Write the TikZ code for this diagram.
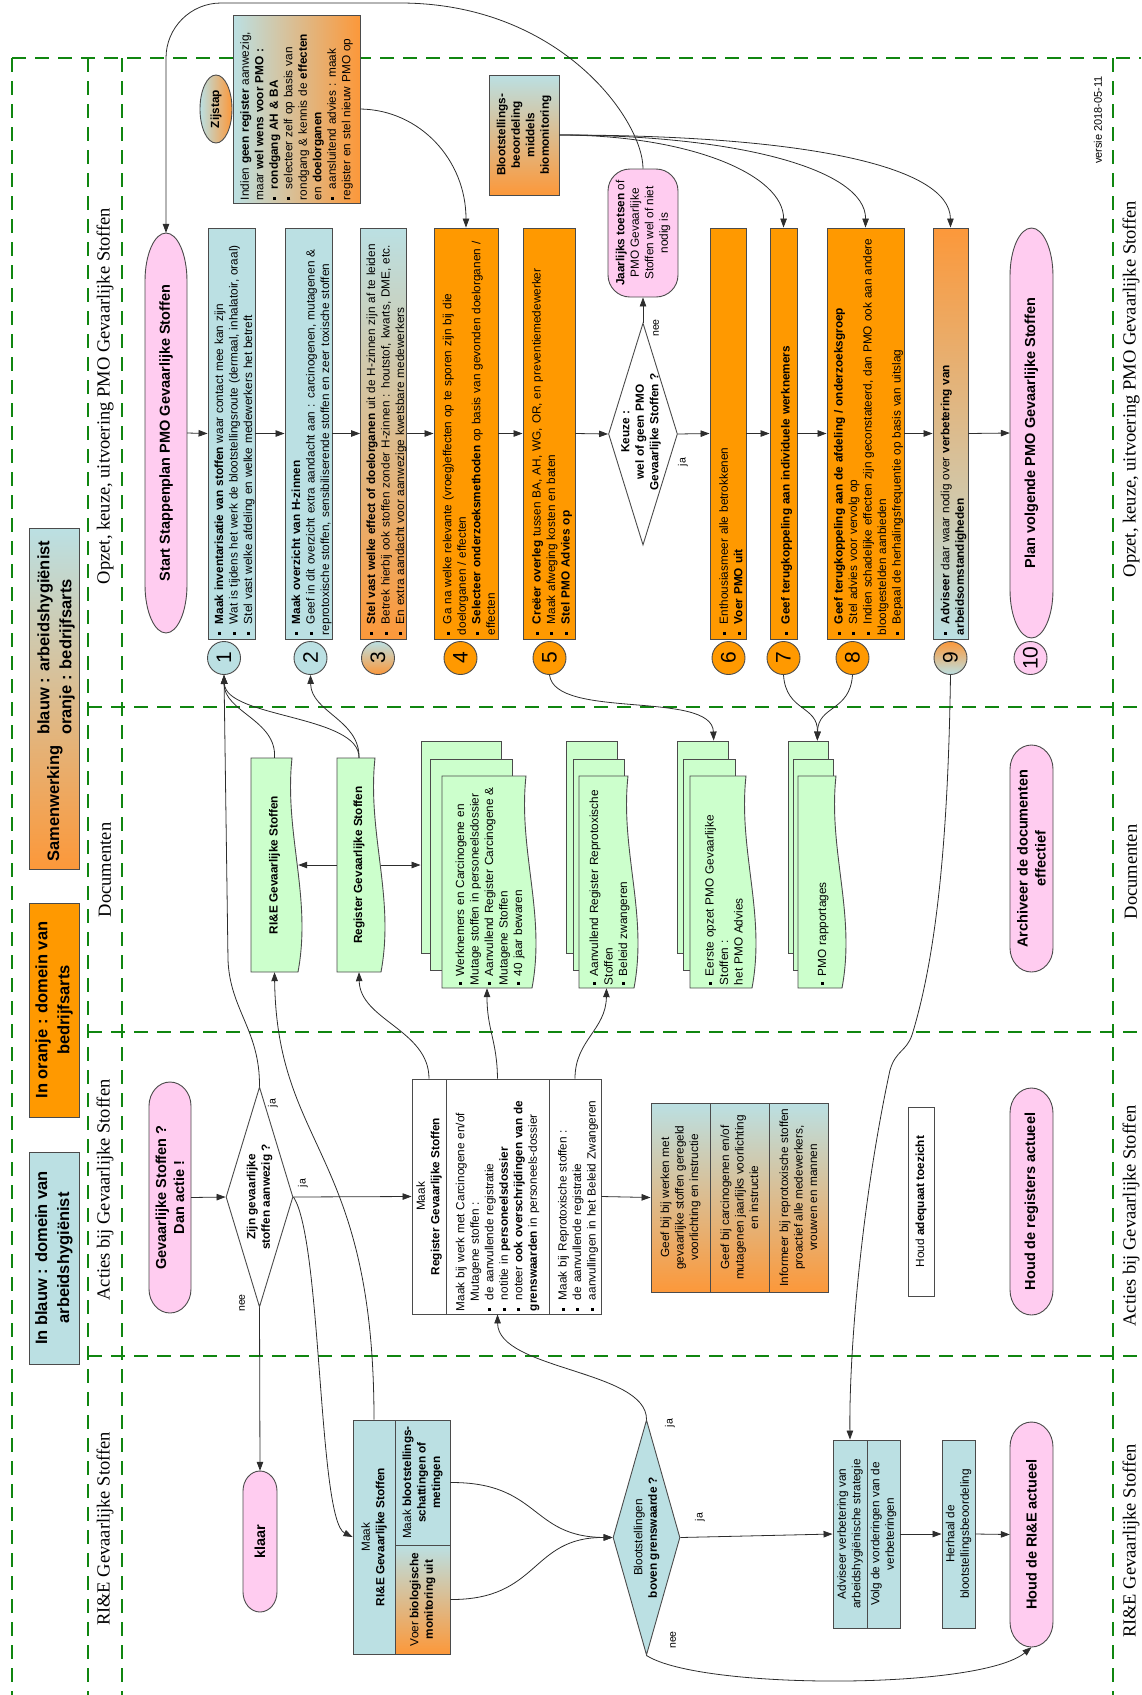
\documentclass[tikz,border=0pt]{standalone}
\usepackage{fontspec}
\setmainfont{Liberation Sans}
\newfontfamily\lanefont{Liberation Serif}
\usetikzlibrary{shapes.geometric,arrows.meta}

\definecolor{blueAH}{RGB}{187,224,227}
\definecolor{orangeBA}{RGB}{255,153,0}
\definecolor{orangeGr}{RGB}{252,152,58}
\definecolor{pinkT}{RGB}{255,204,240}
\definecolor{greenDoc}{RGB}{204,255,204}
\definecolor{laneGreen}{RGB}{16,134,16}
\definecolor{boxline}{RGB}{75,75,75}
\definecolor{connline}{RGB}{45,45,45}

\newcommand\bul{\rule[0.3ex]{3pt}{3pt}}
\newcommand\itm[1]{\par\hangindent=11pt\hangafter=1\noindent\makebox[11pt][l]{\bul}#1}
\newcommand\docitm[1]{\par\hangindent=9pt\hangafter=1\noindent\makebox[9pt][l]{\bul}#1}
% document sheet with wavy lower edge: left x, top y, width, height
\newcommand\docpath[4]{%
  \filldraw[draw=boxline, fill=greenDoc, line width=0.9pt]
    (#1,#2) -- ({#1+#3},#2) -- ({#1+#3},{#2-#4+6})
    .. controls ({#1+0.65*#3},{#2-#4+14}) and ({#1+0.35*#3},{#2-#4-14}) .. (#1,{#2-#4}) -- cycle;}
% terminator outline: centre x, centre y, width, height, length of the rounded ends
\newcommand\termpath[5]{%
  \filldraw[draw=boxline, fill=pinkT, line width=0.9pt]
    ({#1-#3/2+#5},{#2+#4/2}) -- ({#1+#3/2-#5},{#2+#4/2})
    arc[start angle=90, end angle=-90, x radius=#5, y radius=#4/2]
    -- ({#1-#3/2+#5},{#2-#4/2})
    arc[start angle=270, end angle=90, x radius=#5, y radius=#4/2] -- cycle;}

\begin{document}
\begin{tikzpicture}[x=1pt, y=1pt, rotate=90, transform shape,
  stepbox/.style={draw=boxline, line width=0.9pt, inner xsep=4pt, inner ysep=0pt,
                  text width=403pt, align=left, font=\fontsize{11.8}{14.5}\selectfont},
  cellbox/.style={draw=boxline, line width=0.9pt, inner sep=1pt, align=center,
                  font=\fontsize{11.8}{14.5}\selectfont},
  term/.style={inner sep=1pt, align=center, font=\bfseries\fontsize{14.5}{18}\selectfont},
  num/.style={circle, draw=boxline, line width=0.9pt, minimum size=33pt, inner sep=0pt,
              font=\fontsize{21}{21}\selectfont},
  dia/.style={diamond, draw=boxline, line width=0.9pt, inner sep=0pt},
  sheet/.style={draw=boxline, line width=0.9pt, fill=greenDoc, inner sep=0pt},
  doctext/.style={inner xsep=3pt, inner ysep=0pt, align=left, font=\fontsize{11.8}{14.5}\selectfont},
  hdr/.style={draw=boxline, line width=0.9pt, inner sep=2pt, align=center, minimum height=50pt,
              font=\bfseries\fontsize{16.5}{22}\selectfont},
  gradBO/.style={top color=blueAH, bottom color=orangeGr},
  gradOB/.style={top color=orangeGr, bottom color=blueAH},
  gradLR/.style={left color=blueAH, right color=orangeGr},
  conn/.style={draw=connline, line width=0.8pt, -{Triangle[length=9pt,width=6.5pt]}},
  lbl/.style={inner sep=0pt, font=\fontsize{10.5}{10.5}\selectfont},
  lane/.style={draw=laneGreen, line width=2.6pt, dash pattern=on 14pt off 9pt},
  lanetxt/.style={font=\lanefont\fontsize{18.5}{18.5}\selectfont}
]
\useasboundingbox (-1695,-1141) rectangle (0,0);

% swimlanes
\draw[lane] (-58,-12) -- (-58,-1141);
\draw[lane] (-58,-12) -- (-1695,-12);
\draw[lane] (-58,-88) -- (-1695,-88);
\draw[lane] (-58,-122) -- (-1695,-122);
\draw[lane] (-58,-1113) -- (-1695,-1113);
\foreach \lx in {-707,-1032,-1356} \draw[lane] (\lx,-88) -- (\lx,-1141);

\node[lanetxt] (laneOpzet) at (-396,-105) {Opzet, keuze, uitvoering PMO Gevaarlijke Stoffen};
\node[lanetxt] (laneDoc)   at (-870,-105) {Documenten};
\node[lanetxt] (laneActie) at (-1190,-105) {Acties bij Gevaarlijke Stoffen};
\node[lanetxt] (laneRIE)   at (-1529,-105) {RI\&E Gevaarlijke Stoffen};
\node[lanetxt] (laneOpzetR) at (-389,-1131) {Opzet, keuze, uitvoering PMO Gevaarlijke Stoffen};
\node[lanetxt] (laneDocR)   at (-872,-1131) {Documenten};
\node[lanetxt] (laneActieR) at (-1216,-1131) {Acties bij Gevaarlijke Stoffen};
\node[lanetxt] (laneRIER)   at (-1541,-1131) {RI\&E Gevaarlijke Stoffen};
\node[font=\fontsize{11}{11}\selectfont] (versie) at (-120,-1098) {versie 2018-05-11};

% legenda
\node[hdr, fill=blueAH, minimum width=212pt] (hdrBlauw) at (-1258,-54) {In blauw : domein van\\arbeidshygiënist};
\node[hdr, fill=orangeBA, minimum width=214pt] (hdrOranje) at (-1010,-54) {In oranje : domein van\\bedrijfsarts};
\node[hdr, gradBO, minimum width=341pt] (hdrSamen) at (-698.5,-54) {};
\node[inner sep=0pt, font=\bfseries\fontsize{16.5}{22}\selectfont] (samenA) at (-803.5,-55) {Samenwerking};
\node[inner sep=0pt, anchor=west, align=left, font=\bfseries\fontsize{16.5}{22}\selectfont] (samenB) at (-735,-56)
  {blauw : arbeidshygiënist\\oranje : bedrijfsarts};

% opzet, keuze, uitvoering
\termpath{-433}{-166}{400}{42}{48}
\node[term, minimum width=400pt, minimum height=42pt] (start) at (-433,-166) {Start Stappenplan PMO Gevaarlijke Stoffen};
\node[stepbox, fill=blueAH, minimum height=47pt] (s1) at (-433.5,-231.5)
  {\itm{\textbf{Maak inventarisatie van stoffen} waar contact mee kan zijn}
   \itm{Wat is tijdens het werk de blootstellingsroute (dermaal, inhalatoir, oraal)}
   \itm{Stel vast welke afdeling en welke medewerkers het betreft}};
\node[stepbox, fill=blueAH, minimum height=47pt] (s2) at (-433.5,-308.5)
  {\itm{\textbf{Maak overzicht van H-zinnen}}
   \itm{Geef in dit overzicht extra aandacht aan : carcinogenen, mutagenen \&\\reprotoxische stoffen, sensibiliserende stoffen en zeer toxische stoffen}};
\node[stepbox, gradBO, minimum height=43pt] (s3) at (-433.5,-383.5)
  {\itm{\textbf{Stel vast welke effect of doelorganen} uit de H-zinnen zijn af te leiden}
   \itm{Betrek hierbij ook stoffen zonder H-zinnen : houtstof, kwarts, DME, etc.}
   \itm{En extra aandacht voor aanwezige kwetsbare medewerkers}};
\node[stepbox, fill=orangeBA, minimum height=64pt] (s4) at (-433.5,-466)
  {\itm{Ga na welke relevante (vroeg)effecten op te sporen zijn bij die\\doelorganen / effecten}
   \itm{\textbf{Selecteer onderzoeksmethoden} op basis van gevonden doelorganen /\\effecten}};
\node[stepbox, fill=orangeBA, minimum height=52pt] (s5) at (-433.5,-549)
  {\itm{\textbf{Creëer overleg} tussen BA, AH, WG, OR, en preventiemedewerker}
   \itm{Maak afweging kosten en baten}
   \itm{\textbf{Stel PMO Advies op}}};
\node[dia, fill=white, minimum width=222pt, minimum height=69pt] (keuze) at (-434,-643) {};
\node[inner sep=0pt, align=center, font=\bfseries\fontsize{11.8}{14.5}\selectfont] (keuzeT) at (-432,-641)
  {Keuze :\\wel of geen PMO\\Gevaarlijke Stoffen ?};
\node[stepbox, fill=orangeBA, minimum height=36pt] (s6) at (-433.5,-728)
  {\itm{Enthousiasmeer alle betrokkenen}
   \itm{\textbf{Voer PMO uit}}};
\node[stepbox, fill=orangeBA, minimum height=27pt] (s7) at (-433.5,-783.5)
  {\itm{\textbf{Geef terugkoppeling aan individuele werknemers}}};
\node[stepbox, fill=orangeBA, minimum height=77pt] (s8) at (-433.5,-865.5)
  {\itm{\textbf{Geef terugkoppeling aan de afdeling / onderzoeksgroep}}
   \itm{Stel advies voor vervolg op}
   \itm{Indien schadelijke effecten zijn geconstateerd, dan PMO ook aan andere\\blootgestelden aanbieden}
   \itm{Bepaal de herhalingsfrequentie op basis van uitslag}};
\node[stepbox, gradOB, minimum height=35pt] (s9) at (-433.5,-950.5)
  {\itm{\textbf{Adviseer} daar waar nodig over \textbf{verbetering van}\\\textbf{arbeidsomstandigheden}}};
\termpath{-433}{-1031.5}{410}{43}{48}
\node[term, minimum width=410pt, minimum height=43pt] (plan) at (-433,-1031.5) {Plan volgende PMO Gevaarlijke Stoffen};

\node[num, fill=blueAH]   (c1)  at (-658,-224)    {1};
\node[num, fill=blueAH]   (c2)  at (-658,-310.5)  {2};
\node[num, gradBO]        (c3)  at (-658,-378)    {3};
\node[num, fill=orangeBA] (c4)  at (-658,-460.5)  {4};
\node[num, fill=orangeBA] (c5)  at (-658,-549.5)  {5};
\node[num, fill=orangeBA] (c6)  at (-658,-728.5)  {6};
\node[num, fill=orangeBA] (c7)  at (-658,-783.5)  {7};
\node[num, fill=orangeBA] (c8)  at (-658,-852.5)  {8};
\node[num, gradOB]        (c9)  at (-658,-950.5)  {9};
\node[num, fill=pinkT]    (c10) at (-658,-1030.5) {10};

\node[cellbox, fill=pinkT, rounded corners=22pt, minimum width=128pt, minimum height=70pt] (jaar) at (-233,-643)
  {\textbf{Jaarlijks toetsen} of\\PMO Gevaarlijke\\Stoffen wel of niet\\nodig is};
\node[ellipse, draw=boxline, line width=0.9pt, gradLR, minimum width=68pt, minimum height=32pt, inner sep=0pt,
      font=\bfseries\fontsize{11.8}{14}\selectfont] (zijstap) at (-109,-216) {Zijstap};
\node[stepbox, gradLR, text width=182pt, inner xsep=3pt, minimum height=127pt] (indien) at (-109,-296.5)
  {\noindent Indien \textbf{geen register} aanwezig,\\maar \textbf{wel wens voor PMO :}
   \itm{\textbf{rondgang AH \& BA}}
   \itm{selecteer zelf op basis van\\rondgang \& kennis de \textbf{effecten}\\en \textbf{doelorganen}}
   \itm{aansluitend advies : maak\\register en stel nieuw PMO op}};
\node[cellbox, gradBO, minimum width=120pt, minimum height=70pt, font=\bfseries\fontsize{11.8}{14.5}\selectfont] (bloot) at (-135,-524)
  {Blootstellings-\\beoordeling\\middels\\biomonitoring};

% documenten
\docpath{-972}{-251}{214}{47}
\node[inner sep=0pt, minimum width=214pt, minimum height=47pt, font=\bfseries\fontsize{11.8}{14.5}\selectfont] (rie) at (-865,-274.5) {RI\&E Gevaarlijke Stoffen};
\docpath{-972}{-337}{214}{44}
\node[inner sep=0pt, minimum width=214pt, minimum height=44pt, font=\bfseries\fontsize{11.8}{14.5}\selectfont] (reg) at (-865,-359) {Register Gevaarlijke Stoffen};

\node[sheet, minimum width=212pt, minimum height=80pt] (werkB) at (-847,-461) {};
\node[sheet, minimum width=211pt, minimum height=82pt] (werkM) at (-864.5,-471) {};
\docpath{-988}{-442}{212}{90}
\node[doctext, text width=206pt, minimum height=90pt] (werkF) at (-882,-487)
  {\docitm{Werknemers en Carcinogene en\\Mutage stoffen in personeelsdossier}
   \docitm{Aanvullend Register Carcinogene \&\\Mutagene Stoffen}
   \docitm{40 jaar bewaren}};

\node[sheet, minimum width=212pt, minimum height=51pt] (reproB) at (-847,-591.5) {};
\node[sheet, minimum width=211pt, minimum height=51pt] (reproM) at (-864.5,-598.5) {};
\docpath{-988}{-579}{212}{55}
\node[doctext, text width=206pt, minimum height=55pt] (reproF) at (-882,-606.5)
  {\docitm{Aanvullend Register Reprotoxische\\Stoffen}
   \docitm{Beleid zwangeren}};

\node[sheet, minimum width=212pt, minimum height=51pt] (eerB) at (-847,-702.5) {};
\node[sheet, minimum width=211pt, minimum height=52pt] (eerM) at (-864.5,-709) {};
\docpath{-988}{-690}{212}{62}
\node[doctext, text width=206pt, minimum height=62pt] (eerF) at (-882,-721)
  {\docitm{Eerste opzet PMO Gevaarlijke\\Stoffen :\\het PMO Advies}};

\node[sheet, minimum width=212pt, minimum height=40pt] (pmoB) at (-847,-808) {};
\node[sheet, minimum width=211pt, minimum height=40pt] (pmoM) at (-864.5,-813) {};
\docpath{-988}{-798}{212}{44}
\node[doctext, text width=206pt, minimum height=44pt] (pmoF) at (-882,-820)
  {\docitm{PMO rapportages}};

\termpath{-858.5}{-1031.5}{227}{43}{24}
\node[term, minimum width=227pt, minimum height=43pt] (archief) at (-858.5,-1031.5) {Archiveer de documenten\\effectief};

% acties
\termpath{-1197.5}{-170}{231}{42}{24}
\node[term, minimum width=231pt, minimum height=42pt] (gev) at (-1197.5,-170) {Gevaarlijke Stoffen ?\\Dan actie !};
\node[dia, fill=white, minimum width=220pt, minimum height=67pt] (zijn) at (-1197,-259.5) {};
\node[inner sep=0pt, align=center, font=\bfseries\fontsize{11.8}{14.5}\selectfont] (zijnT) at (-1197,-259.5)
  {Zijn gevaarlijke\\stoffen aanwezig ?};
\termpath{-1541.5}{-260}{141}{34}{20}
\node[term, minimum width=141pt, minimum height=34pt] (klaar) at (-1541.5,-260) {klaar};

\node[cellbox, fill=white, minimum width=235pt, minimum height=34pt] (mregH) at (-1196.5,-429)
  {Maak\\\textbf{Register Gevaarlijke Stoffen}};
\node[stepbox, fill=white, text width=229pt, inner xsep=3pt, minimum height=103pt] (mreg1) at (-1196.5,-497.5)
  {\noindent Maak bij werk met Carcinogene en/of\\\hspace*{10pt}Mutagene stoffen :
   \itm{de aanvullende registratie}
   \itm{notitie in \textbf{personeelsdossier}}
   \itm{noteer \textbf{ook overschrijdingen van de}\\\textbf{grenswaarden} in personeels-dossier}};
\node[stepbox, fill=white, text width=229pt, inner xsep=3pt, minimum height=52pt] (mreg2) at (-1196.5,-575)
  {\itm{Maak bij Reprotoxische stoffen :}
   \itm{de aanvullende registratie}
   \itm{aanvullingen in het Beleid Zwangeren}};
\node[cellbox, gradBO, minimum width=189pt, minimum height=59pt] (geefA) at (-1197.5,-680.5)
  {Geef bij bij werken met\\gevaarlijke stoffen geregeld\\voorlichting en instructie};
\node[cellbox, gradBO, minimum width=189pt, minimum height=59pt] (geefB) at (-1197.5,-739.5)
  {Geef bij carcinogenen en/of\\mutagenen jaarlijks voorlichting\\en instructie};
\node[cellbox, gradBO, minimum width=189pt, minimum height=59pt] (inform) at (-1197.5,-798.5)
  {Informeer bij reprotoxische stoffen\\proactief alle medewerkers,\\vrouwen en mannen};
\node[cellbox, fill=white, minimum width=189pt, minimum height=26pt] (toezicht) at (-1201.5,-921) {Houd \textbf{adequaat toezicht}};
\termpath{-1201.5}{-1031.5}{227}{43}{25}
\node[term, minimum width=227pt, minimum height=43pt] (registers) at (-1201.5,-1031.5) {Houd de registers actueel};

% RI&E
\node[cellbox, fill=blueAH, minimum width=234pt, minimum height=42pt] (mrieH) at (-1537,-374)
  {Maak\\\textbf{RI\&E Gevaarlijke Stoffen}};
\node[cellbox, fill=blueAH, minimum width=125pt, minimum height=55pt] (mrieM) at (-1482.5,-422.5)
  {Maak \textbf{blootstellings-}\\\textbf{schattingen of}\\\textbf{metingen}};
\node[cellbox, gradBO, minimum width=109pt, minimum height=55pt] (mrieV) at (-1599.5,-422.5)
  {Voer \textbf{biologische}\\\textbf{monitoring uit}};
\node[dia, fill=blueAH, minimum width=235pt, minimum height=67pt] (bov) at (-1537.5,-646.5) {};
\node[inner sep=0pt, align=center, font=\fontsize{11.8}{14.5}\selectfont] (bovT) at (-1537.5,-646.5)
  {Blootstellingen\\\textbf{boven grenswaarde ?}};
\node[cellbox, fill=blueAH, minimum width=188pt, minimum height=34pt] (advA) at (-1534,-850)
  {Adviseer verbetering van\\arbeidshygiënische strategie};
\node[cellbox, fill=blueAH, minimum width=188pt, minimum height=33pt] (advB) at (-1534,-883.5)
  {Volg de vorderingen van de\\verbeteringen};
\node[cellbox, fill=blueAH, minimum width=188pt, minimum height=33pt] (herh) at (-1534,-958.5)
  {Herhaal de\\blootstellingsbeoordeling};
\termpath{-1534.5}{-1031.5}{225}{43}{25}
\node[term, minimum width=225pt, minimum height=43pt] (houdRIE) at (-1534.5,-1031.5) {Houd de RI\&E actueel};

% connectors
\draw[conn] (start.south) -- (s1.north);
\draw[conn] (s1.south) -- (s2.north);
\draw[conn] (s2.south) -- (s3.north);
\draw[conn] (s3.south) -- (s4.north);
\draw[conn] (s4.south) -- (s5.north);
\draw[conn] (s5.south) -- (keuze.north);
\draw[conn] (keuze.south) -- (s6.north);
\draw[conn] (s6.south) -- (s7.north);
\draw[conn] (s7.south) -- (s8.north);
\draw[conn] (s8.south) -- (s9.north);
\draw[conn] (s9.south) -- (plan.north);
\draw[conn] (keuze.east) -- (jaar.west);
\draw[conn] (jaar.east) .. controls (-120,-643) and (-3,-560) .. (-3,-400) [rounded corners=55pt] -- (-3,-166) -- (start.east);
\draw[conn] (indien.south) .. controls (-110,-420) and (-160,-466) .. (s4.east);
\draw[conn] (bloot.south) .. controls (-135,-690) and (-175,-784) .. (s7.east);
\draw[conn] (bloot.south) .. controls (-135,-740) and (-170,-866) .. (s8.east);
\draw[conn] (bloot.south) .. controls (-135,-800) and (-165,-950) .. (s9.east);

\draw[conn] (rie.east) .. controls (-720,-277) and (-712,-224) .. (c1.west);
\draw[conn] (reg.east) .. controls (-715,-360) and (-718,-226) .. (c1.west);
\draw[conn] (reg.east) .. controls (-720,-360) and (-712,-311) .. (c2.west);
\draw[conn] (zijn.east) .. controls (-1030,-260) and (-1010,-230) .. (-960,-228) -- (c1.west);
\draw[conn] (reg.north) -- (rie.south);
\draw[conn] (reg.south) -- (reg.south |- werkB.north);
\draw[conn] (c5.west) .. controls (-720,-555) and (-690,-712) .. (eerB.-6);
\draw[conn] (c7.west) .. controls (-712,-786) and (-705,-818) .. (pmoB.-5);
\draw[conn] (c8.west) .. controls (-712,-850) and (-705,-818) .. (pmoB.-5);

\draw[conn] (gev.south) -- (zijn.north);
\draw[conn] (zijn.west) -- (klaar.east);
\draw[conn] (zijn.south) -- (mregH.north);
\draw[conn] (zijn.south) .. controls (-1240,-322) and (-1520,-318) .. (mrieH.north);
\draw[conn] (mrieH.east) .. controls (-1150,-374) and (-1150,-277) .. (rie.west);
\draw[conn] (mregH.east) .. controls (-1030,-429) and (-1020,-360) .. (reg.west);
\draw[conn] (mreg1.east) .. controls (-1040,-497) and (-1030,-487) .. (werkF.west);
\draw[conn] (mreg2.east) .. controls (-1040,-575) and (-1030,-606) .. (reproF.west);
\draw[conn] (mreg2.south) -- (geefA.north);

\draw[conn] (mrieM.south) .. controls (-1482,-540) and (-1537,-530) .. (bov.north);
\draw[conn] (mrieV.south) .. controls (-1600,-540) and (-1537,-530) .. (bov.north);
\draw[conn] (bov.east) .. controls (-1370,-647) and (-1370,-498) .. (mreg1.west);
\draw[conn] (bov.south) -- (advA.north);
\draw[conn] (bov.west) .. controls (-1690,-700) and (-1690,-980) .. (houdRIE.west);
\draw[conn] (advB.south) -- (herh.north);
\draw[conn] (herh.south) -- (houdRIE.north);
\draw[conn] (c9.west) .. controls (-850,-948) and (-960,-935) .. (-1035,-912)
  .. controls (-1052,-906) and (-1050,-896) .. (-1070,-890)
  .. controls (-1200,-862) and (-1350,-849) .. (advA.east);

\node[lbl] (jaKeuze)  at (-462,-683)  {ja};
\node[lbl] (neeKeuze) at (-328,-656)  {nee};
\node[lbl] (jaZijnA)  at (-1103,-273) {ja};
\node[lbl] (neeZijn)  at (-1303,-242) {nee};
\node[lbl] (jaZijnB)  at (-1183,-303) {ja};
\node[lbl] (jaBovA)   at (-1423,-670) {ja};
\node[lbl] (jaBovB)   at (-1517,-700) {ja};
\node[lbl] (neeBov)   at (-1640,-673) {nee};
\end{tikzpicture}
\end{document}
